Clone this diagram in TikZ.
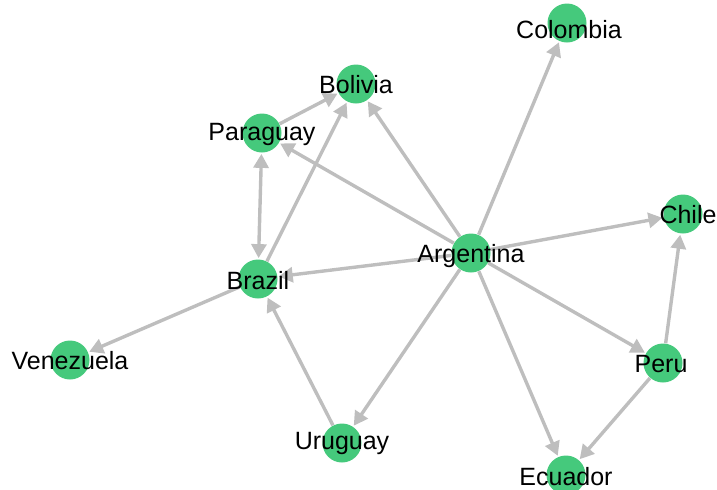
\documentclass[tikz,border=0pt]{standalone}
\usepackage{fontspec}
\setmainfont{Liberation Sans}
\usetikzlibrary{arrows.meta}
\usetikzlibrary{shapes,positioning}
\definecolor{nodegreen}{RGB}{69,201,124}
\definecolor{edgegray}{RGB}{190,190,190}
\tikzset{>={Triangle[length=7pt,width=7.5pt]}}
\tikzset{country/.style={circle,fill=nodegreen,inner sep=0pt,minimum size=19.5pt},
  lbl/.style={font=\fontsize{12.5}{14}\selectfont,text=black,inner sep=0pt},
  link/.style={->,draw=edgegray,line width=1.7pt,shorten >=0.5pt}}

\begin{document}
\begin{tikzpicture}[x=0.5pt,y=-0.5pt]
    \useasboundingbox (0,0) rectangle (717,489);
    \node[country] (col) at (567,23) {};
    \node[country] (bol) at (356,84) {};
    \node[country] (par) at (262,133) {};
    \node[country] (chi) at (683,214) {};
    \node[country] (arg) at (471,253) {};
    \node[country] (bra) at (258,279) {};
    \node[country] (ven) at (70,360) {};
    \node[country] (per) at (663,363) {};
    \node[country] (uru) at (342,443) {};
    \node[country] (ecu) at (566,475) {};
    % edges
    \foreach \a/\b in {arg/col,arg/bol,arg/par,arg/chi,arg/bra,arg/per,arg/uru,arg/ecu,
        par/bol,bra/bol,bra/ven,uru/bra,per/chi,per/ecu}
        \draw[link] (\a) -- (\b);
    \draw[link,<->,shorten <=0.5pt] (par) -- (bra);
    % labels
    \node[lbl] (colt) at (569,30) {Colombia};
    \node[lbl] (bolt) at (356,85) {Bolivia};
    \node[lbl] (part) at (262,134) {Paraguay};
    \node[lbl] (chit) at (688,215) {Chile};
    \node[lbl] (argt) at (471,256) {Argentina};
    \node[lbl] (brat) at (258,281) {Brazil};
    \node[lbl] (vent) at (70,361) {Venezuela};
    \node[lbl] (pert) at (661,364) {Peru};
    \node[lbl] (urut) at (342,443) {Uruguay};
    \node[lbl] (ecut) at (566,477) {Ecuador};
\end{tikzpicture}
\end{document}
